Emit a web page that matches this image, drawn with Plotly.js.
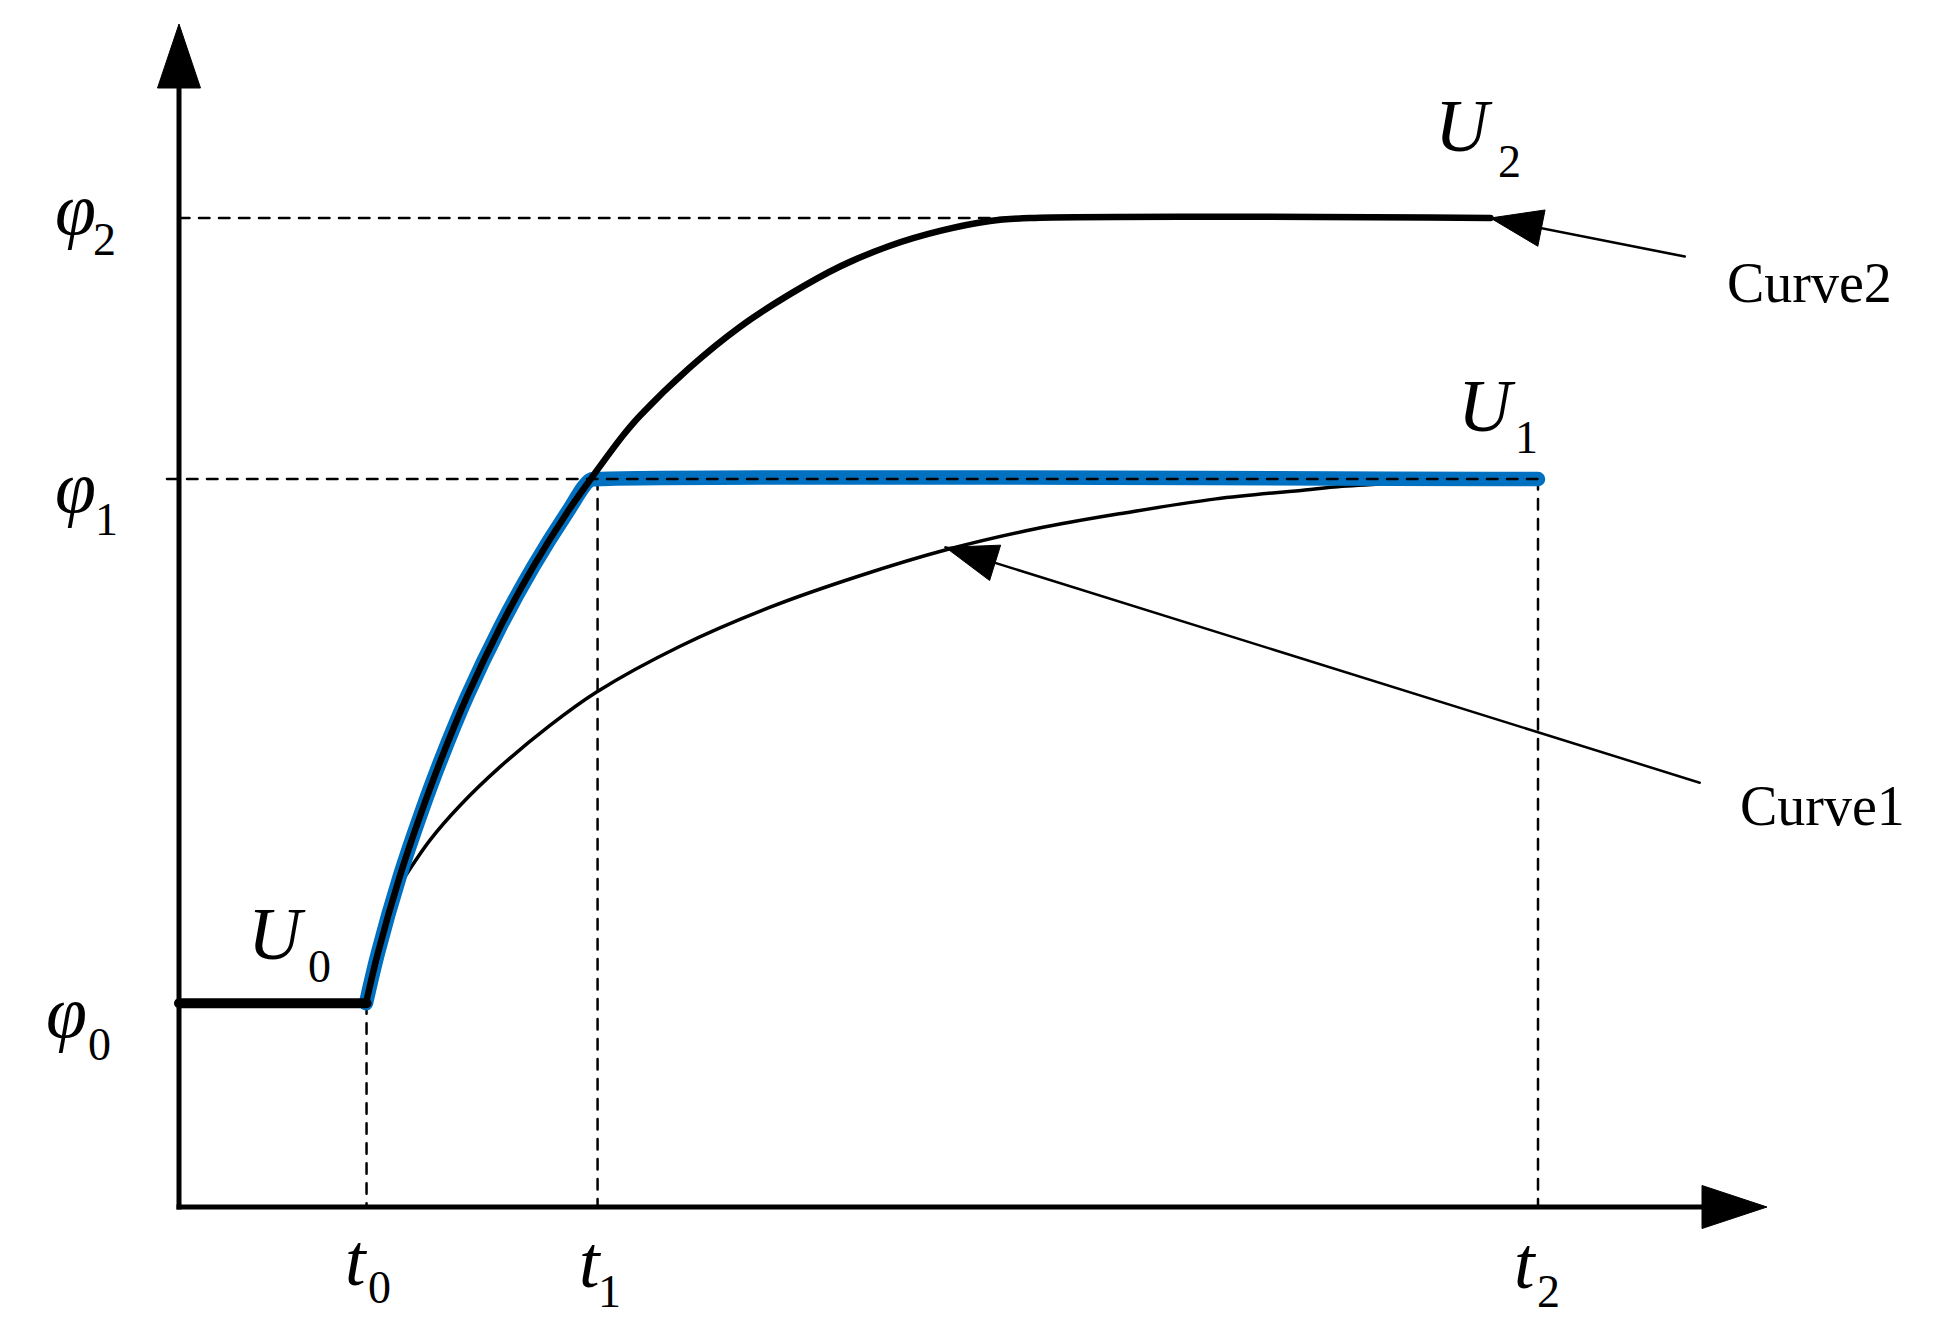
<!DOCTYPE html>
<html>
<head>
<meta charset="utf-8">
<script src="https://cdn.plot.ly/plotly-3.0.1.min.js"></script>
<style>
html, body { margin: 0; padding: 0; background: #ffffff; }
#chart { width: 1942px; height: 1339px; }
.scatterlayer .js-line { stroke-linecap: round; stroke-linejoin: round; }
</style>
</head>
<body>
<div id="chart"></div>
<script>
// ---------------- data (schematic units) ----------------
const tLabels = ['0', '1', '2'];
const tValues = [1.38, 3.08, 10.0];
const phiLabels = ['0', '1', '2'];
const phiValues = [2.06, 7.36, 10.0];
const stateLabels = ['0', '1', '2'];

// common steep rise from (t0, φ0) to (t1, φ1)
const riseX = [1.376, 1.464, 1.626, 1.773, 1.921, 2.119, 2.362, 2.605, 2.855, 3.024];
const riseY = [2.06, 2.57, 3.35, 3.95, 4.50, 5.16, 5.86, 6.47, 7.02, 7.35];

// Curve2: continuation of the rise up to φ2, then flat
const curve2X = [3.267, 3.392, 3.760, 4.128, 4.496, 4.864, 5.232, 5.600, 5.968, 6.262, 9.65];
const curve2Y = [7.80, 8.00, 8.49, 8.90, 9.23, 9.51, 9.72, 9.87, 9.97, 10.0, 10.0];

// Curve1: slow approach towards φ1
const curve1X = [1.648, 1.847, 2.068, 2.362, 2.730, 3.076, 3.687, 4.341, 5.004, 5.659, 6.313, 6.968, 7.631, 8.286, 8.499, 8.837];
const curve1Y = [3.31, 3.71, 4.06, 4.45, 4.87, 5.21, 5.67, 6.06, 6.38, 6.65, 6.86, 7.02, 7.16, 7.25, 7.28, 7.31];

// call-out arrows
const calloutLabels = ['Curve1', 'Curve2'];
const calloutTipX = [5.64, 9.65];
const calloutTipY = [6.67, 10.0];
const calloutTailX = [11.19, 11.08];
const calloutTailY = [4.29, 9.61];

// ---------------- layout / style constants ----------------
const W = 1942, H = 1339;
const ORIGIN_PX = [179, 1207];
const PX_PER_X = 135.9, PX_PER_Y = 98.9;
const xRange = [-ORIGIN_PX[0] / PX_PER_X, (W - ORIGIN_PX[0]) / PX_PER_X];
const yRange = [-(H - ORIGIN_PX[1]) / PX_PER_Y, ORIGIN_PX[1] / PX_PER_Y];
const BLUE = '#0070C0';
const DASH = '10.5px,9.5px';
const SERIF = 'Liberation Serif, Times New Roman, serif';

const Y_AXIS_TIP = 1183 / PX_PER_Y, Y_HEAD_LEN = 64, Y_HEAD_WID = 43;
const X_AXIS_TIP = 1588 / PX_PER_X, X_HEAD_LEN = 65, X_HEAD_WID = 43;

function headPath(tipX, tipY, fromX, fromY, len, wid) {
  let vx = (tipX - fromX) * PX_PER_X, vy = (tipY - fromY) * PX_PER_Y;
  const n = Math.hypot(vx, vy); vx /= n; vy /= n;
  const bx = -vx * len, by = -vy * len;
  const qx = -vy * wid / 2, qy = vx * wid / 2;
  const pts = [[0, 0], [bx + qx, by + qy], [bx - qx, by - qy]];
  return 'M' + pts.map(p => (tipX + p[0] / PX_PER_X) + ',' + (tipY + p[1] / PX_PER_Y)).join('L') + 'Z';
}

const [t0, t1, t2] = tValues;
const [p0, p1, p2] = phiValues;

const traces = [];
const dashLine = {color: '#000', width: 2.5, dash: DASH};
// dashed guide lines
traces.push({x: [0, curve2X[curve2X.length - 2]], y: [p2, p2], mode: 'lines', line: dashLine});
traces.push({x: [t0, t0], y: [p0, 0], mode: 'lines', line: dashLine});
traces.push({x: [t1, t1], y: [p1, 0], mode: 'lines', line: dashLine});
traces.push({x: [t2, t2], y: [p1, 0], mode: 'lines', line: dashLine});
// Curve1 (runs into the blue band at its end)
traces.push({x: curve1X, y: curve1Y, mode: 'lines', line: {color: '#000', width: 3.5, shape: 'spline', smoothing: 1}});
// blue U1 path
traces.push({x: riseX.concat([t1, t2]), y: riseY.concat([p1, p1]), mode: 'lines',
             line: {color: BLUE, width: 14.5, shape: 'spline', smoothing: 1}});
// φ1 dashed on top of blue
traces.push({x: [-12 / PX_PER_X, t2], y: [p1, p1], mode: 'lines', line: dashLine});
// U0 level
traces.push({x: [0, t0], y: [p0, p0], mode: 'lines', line: {color: '#000', width: 10}});
// Curve2
traces.push({x: riseX.concat(curve2X), y: riseY.concat(curve2Y), mode: 'lines',
             line: {color: '#000', width: 6.5, shape: 'spline', smoothing: 1}});
// call-out lines
for (let i = 0; i < calloutLabels.length; i++) {
  traces.push({x: [calloutTailX[i], calloutTipX[i]], y: [calloutTailY[i], calloutTipY[i]], mode: 'lines',
               line: {color: '#000', width: 2.5}});
}

const shapes = [
  {type: 'line', xref: 'x', yref: 'y', x0: 0, x1: 0, y0: -2.5 / PX_PER_Y, y1: Y_AXIS_TIP - (Y_HEAD_LEN - 2) / PX_PER_Y,
   line: {color: '#000', width: 5}, layer: 'below'},
  {type: 'line', xref: 'x', yref: 'y', x0: -2.5 / PX_PER_X, x1: X_AXIS_TIP - (X_HEAD_LEN - 2) / PX_PER_X, y0: 0, y1: 0,
   line: {color: '#000', width: 5}, layer: 'below'},
  {type: 'path', xref: 'x', yref: 'y', path: headPath(0, Y_AXIS_TIP, 0, 0, Y_HEAD_LEN, Y_HEAD_WID),
   fillcolor: '#000', line: {color: '#000', width: 1}},
  {type: 'path', xref: 'x', yref: 'y', path: headPath(X_AXIS_TIP, 0, 0, 0, X_HEAD_LEN, X_HEAD_WID),
   fillcolor: '#000', line: {color: '#000', width: 1}}
];
for (let i = 0; i < calloutLabels.length; i++) {
  shapes.push({type: 'path', xref: 'x', yref: 'y',
               path: headPath(calloutTipX[i], calloutTipY[i], calloutTailX[i], calloutTailY[i], 52, 37),
               fillcolor: '#000', line: {color: '#000', width: 1}});
}

// ---------------- labels: italic symbol + upright subscript ----------------
const mainFont = {family: SERIF, size: 74, color: '#000', style: 'italic'};
const subFont = {family: SERIF, size: 46, color: '#000', style: 'normal'};
const annotations = [];
function mathLabel(sym, sub, ax, ay, mainShift, subShift) {
  annotations.push({x: ax, y: ay, xref: 'x', yref: 'y', showarrow: false, text: sym, font: mainFont,
    xanchor: 'left', yanchor: 'middle', xshift: mainShift[0], yshift: mainShift[1]});
  annotations.push({x: ax, y: ay, xref: 'x', yref: 'y', showarrow: false, text: sub, font: subFont,
    xanchor: 'left', yanchor: 'middle', xshift: subShift[0], yshift: subShift[1]});
}
// φ labels, anchored on the y axis at each level
const phiMainShift = [[-135, -9], [-126, -8], [-126, 9]];
const phiSubShift = [[-93, -41.5], [-86, -40.5], [-88, -21.5]];
for (let k = 0; k < 3; k++) mathLabel('φ', phiLabels[k], 0, phiValues[k], phiMainShift[k], phiSubShift[k]);
// t labels, anchored on the x axis at each time
const tMainShift = [[-23.5, -53], [-20.6, -55], [-26, -56]];
const tSubShift = [[-0.5, -80.5], [-1.6, -84.5], [-3, -84.5]];
for (let k = 0; k < 3; k++) mathLabel('t', tLabels[k], tValues[k], 0, tMainShift[k], tSubShift[k]);
// U labels
const uAnchorX = [t0, t2, t2], uAnchorY = [p0, p1, p2];
const uMainShift = [[-120.5, 69], [-82, 73], [-105, 92]];
const uSubShift = [[-60.5, 36.5], [-25, 41.5], [-42, 56.5]];
for (let k = 0; k < 3; k++) mathLabel('U', stateLabels[k], uAnchorX[k], uAnchorY[k], uMainShift[k], uSubShift[k]);
// call-out texts
const cShiftX = [38, 40], cShiftY = [-23, -26];
for (let i = 0; i < calloutLabels.length; i++) {
  annotations.push({x: calloutTailX[i], y: calloutTailY[i], xref: 'x', yref: 'y', showarrow: false,
    text: calloutLabels[i], font: {family: SERIF, size: 56, color: '#000'},
    xanchor: 'left', yanchor: 'middle', xshift: cShiftX[i], yshift: cShiftY[i]});
}

const layout = {
  width: W, height: H,
  margin: {l: 0, r: 0, t: 0, b: 0, pad: 0},
  paper_bgcolor: '#ffffff', plot_bgcolor: '#ffffff',
  showlegend: false, hovermode: false,
  xaxis: {range: xRange, visible: false, fixedrange: true},
  yaxis: {range: yRange, visible: false, fixedrange: true},
  shapes: shapes,
  annotations: annotations
};
traces.forEach(t => { t.hoverinfo = 'skip'; t.cliponaxis = false; });
Plotly.newPlot('chart', traces, layout, {staticPlot: true, displayModeBar: false});
</script>
</body>
</html>
